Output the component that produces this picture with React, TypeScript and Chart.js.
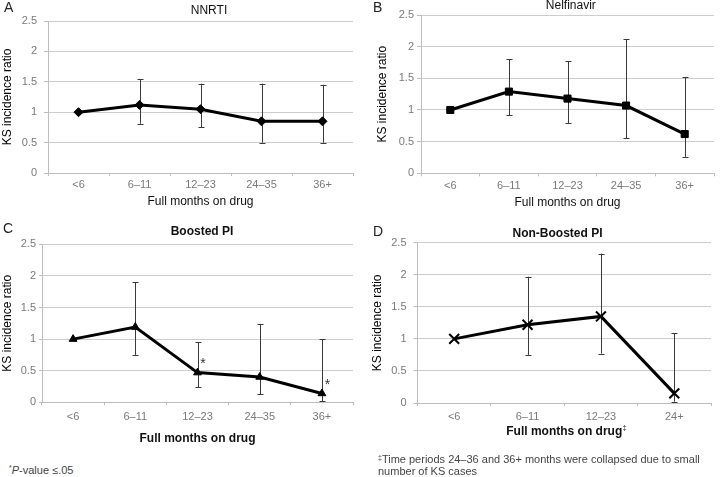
import React, { useEffect, useRef } from 'react';
import { Chart, registerables } from 'chart.js';

Chart.register(...registerables);

// ---------- data ----------
const monthsFive = ['<6', '6–11', '12–23', '24–35', '36+'];
const monthsFour = ['<6', '6–11', '12–23', '24+'];
const yTickValues = [0, 0.5, 1, 1.5, 2, 2.5];

const nnrtiRatio = [1.0, 1.12, 1.05, 0.85, 0.85];
const nnrtiLower = [null, 0.81, 0.75, 0.5, 0.5];
const nnrtiUpper = [null, 1.54, 1.47, 1.47, 1.45];

const nelfinavirRatio = [1.0, 1.29, 1.18, 1.07, 0.62];
const nelfinavirLower = [null, 0.92, 0.79, 0.55, 0.26];
const nelfinavirUpper = [null, 1.8, 1.77, 2.12, 1.52];

const boostedRatio = [1.0, 1.19, 0.47, 0.4, 0.14];
const boostedLower = [null, 0.75, 0.24, 0.13, 0.02];
const boostedUpper = [null, 1.9, 0.95, 1.24, 1.0];
const boostedSignificant = [false, false, true, false, true];

const nonBoostedRatio = [1.0, 1.22, 1.35, 0.15];
const nonBoostedLower = [null, 0.75, 0.77, 0.02];
const nonBoostedUpper = [null, 1.97, 2.33, 1.09];

const FONT = "'Liberation Sans', Arial, Helvetica, sans-serif";
const gridColor = '#cdcdcd';
const axisColor = '#bdbdbd';
const tickColor = '#7a7a7a';

type Panel = {
  letter: string;
  title: string;
  titleBold: boolean;
  titleX: number;
  titleY: number;
  letterX: number;
  letterY: number;
  labels: string[];
  ratio: number[];
  lower: (number | null)[];
  upper: (number | null)[];
  significant?: boolean[];
  pointStyle: string;
  pointRadius: number;
  pointBorderWidth: number;
  left: number;
  top: number;
  w: number;
  h: number;
  area: { l: number; r: number; t: number; b: number };
  yTickLen: number;
  yTickPad: number;
  xTickLen: number;
  xTickPad: number;
  yTitleX: number;
  xTitleY: number;
  axisTitleBold: boolean;
  xTitleSup?: string;
};

const panels: Panel[] = [
  {
    letter: 'A', title: 'NNRTI', titleBold: false, titleX: 209, titleY: 10.7, letterX: 4, letterY: 8.5,
    labels: monthsFive, ratio: nnrtiRatio, lower: nnrtiLower, upper: nnrtiUpper,
    pointStyle: 'rectRot', pointRadius: 4.5, pointBorderWidth: 1,
    left: 0, top: 0, w: 360, h: 212,
    area: { l: 48, r: 353, t: 21, b: 173 },
    yTickLen: 4, yTickPad: 7, xTickLen: 3, xTickPad: 2, yTitleX: 8, xTitleY: 201.7, axisTitleBold: false,
  },
  {
    letter: 'B', title: 'Nelfinavir', titleBold: false, titleX: 210.8, titleY: 5.5, letterX: 13, letterY: 8.5,
    labels: monthsFive, ratio: nelfinavirRatio, lower: nelfinavirLower, upper: nelfinavirUpper,
    pointStyle: 'rect', pointRadius: 5, pointBorderWidth: 1,
    left: 360, top: 0, w: 360, h: 212,
    area: { l: 61, r: 358, t: 15, b: 173.3 },
    yTickLen: 4, yTickPad: 3, xTickLen: 3, xTickPad: 3, yTitleX: 22.7, xTitleY: 202.3, axisTitleBold: false,
  },
  {
    letter: 'C', title: 'Boosted PI', titleBold: true, titleX: 202, titleY: 16.7, letterX: 3, letterY: 14,
    labels: monthsFive, ratio: boostedRatio, lower: boostedLower, upper: boostedUpper,
    significant: boostedSignificant,
    pointStyle: 'triangle', pointRadius: 4.5, pointBorderWidth: 1,
    left: 0, top: 215, w: 360, h: 240,
    area: { l: 42, r: 353, t: 29.3, b: 187.3 },
    yTickLen: 3, yTickPad: 3, xTickLen: 3, xTickPad: 5, yTitleX: 7.3, xTitleY: 224, axisTitleBold: true,
  },
  {
    letter: 'D', title: 'Non-Boosted PI', titleBold: true, titleX: 197.5, titleY: 18.3, letterX: 13, letterY: 17.5,
    labels: monthsFour, ratio: nonBoostedRatio, lower: nonBoostedLower, upper: nonBoostedUpper,
    pointStyle: 'crossRot', pointRadius: 7, pointBorderWidth: 2,
    left: 360, top: 215, w: 360, h: 240,
    area: { l: 57.5, r: 360, t: 27.7, b: 188 },
    yTickLen: 4, yTickPad: 7, xTickLen: 3, xTickPad: 4, yTitleX: 17.3, xTitleY: 216.7, axisTitleBold: true,
    xTitleSup: '‡',
  },
];

function makePanelPlugin(p: Panel) {
  return {
    id: 'panelExtras' + p.letter,
    beforeDatasetsDraw(chart: any) {
      const ctx = chart.ctx;
      const xs = chart.scales.x;
      const ys = chart.scales.y;
      ctx.save();
      ctx.strokeStyle = '#3a3a3a';
      ctx.lineWidth = 1;
      const cap = 3;
      p.lower.forEach((lo, i) => {
        const hi = p.upper[i];
        if (lo == null || hi == null) return;
        const px = Math.round(xs.getPixelForValue(i)) + 0.5;
        const y1 = ys.getPixelForValue(lo);
        const y2 = ys.getPixelForValue(hi);
        ctx.beginPath();
        ctx.moveTo(px, y1);
        ctx.lineTo(px, y2);
        ctx.moveTo(px - cap, Math.round(y1) + 0.5);
        ctx.lineTo(px + cap, Math.round(y1) + 0.5);
        ctx.moveTo(px - cap, Math.round(y2) + 0.5);
        ctx.lineTo(px + cap, Math.round(y2) + 0.5);
        ctx.stroke();
      });
      ctx.restore();
    },
    afterDraw(chart: any) {
      const ctx = chart.ctx;
      ctx.save();
      // panel letter
      ctx.fillStyle = '#222';
      ctx.font = `14px ${FONT}`;
      ctx.textAlign = 'left';
      ctx.textBaseline = 'middle';
      ctx.fillText(p.letter, p.letterX, p.letterY);
      // panel title
      ctx.fillStyle = '#111';
      ctx.font = `${p.titleBold ? 'bold ' : ''}12px ${FONT}`;
      ctx.textAlign = 'center';
      ctx.fillText(p.title, p.titleX, p.titleY);
      // significance markers
      if (p.significant) {
        const xs = chart.scales.x;
        const ys = chart.scales.y;
        ctx.fillStyle = '#333';
        ctx.font = `14px ${FONT}`;
        ctx.textAlign = 'center';
        p.significant.forEach((s, i) => {
          if (!s) return;
          const px = xs.getPixelForValue(i);
          const py = ys.getPixelForValue(p.ratio[i]);
          ctx.fillText('*', px + 5.5, py - 8);
        });
      }
      // superscript on x-axis title
      if (p.xTitleSup) {
        const xs = chart.scales.x;
        ctx.font = `${p.axisTitleBold ? 'bold ' : ''}12px ${FONT}`;
        const wMain = ctx.measureText('Full months on drug').width;
        const cx = (xs.left + xs.right) / 2;
        ctx.fillStyle = '#111';
        ctx.font = `7px ${FONT}`;
        ctx.textAlign = 'left';
        ctx.fillText(p.xTitleSup, cx + wMain / 2 + 0.5, p.xTitleY - 4);
      }
      ctx.restore();
    },
  };
}

function PanelChart({ p }: { p: Panel }) {
  const ref = useRef<HTMLCanvasElement | null>(null);
  useEffect(() => {
    if (!ref.current) return;
    const lh = 12 * 1.2;
    const chart = new Chart(ref.current, {
      type: 'line',
      data: {
        labels: p.labels,
        datasets: [
          {
            data: p.ratio,
            borderColor: '#000',
            borderWidth: 3,
            tension: 0,
            pointStyle: p.pointStyle as any,
            pointRadius: p.pointRadius,
            pointBackgroundColor: '#000',
            pointBorderColor: '#000',
            pointBorderWidth: p.pointBorderWidth,
            clip: false as any,
          },
        ],
      },
      options: {
        animation: false,
        responsive: false,
        maintainAspectRatio: false,
        layout: { padding: { left: 0, top: p.area.t, right: p.w - p.area.r, bottom: 0 } },
        plugins: {
          legend: { display: false },
          tooltip: { enabled: false },
          title: { display: false },
        },
        scales: {
          x: {
            type: 'category',
            offset: true,
            grid: {
              display: true,
              offset: true,
              drawOnChartArea: false,
              drawTicks: true,
              tickLength: p.xTickLen,
              color: axisColor,
              lineWidth: 1,
            },
            border: { display: true, color: axisColor, width: 1 },
            ticks: {
              color: tickColor,
              font: { family: FONT, size: 11 },
              padding: p.xTickPad,
              maxRotation: 0,
              autoSkip: false,
            },
            title: {
              display: true,
              text: 'Full months on drug',
              color: '#111',
              font: { family: FONT, size: 12, weight: p.axisTitleBold ? 'bold' : 'normal' },
              padding: { top: 0, bottom: p.h - p.xTitleY - lh / 2 },
            },
            afterFit: (s: any) => {
              s.height = p.h - p.area.b;
            },
          },
          y: {
            min: 0,
            max: 2.5,
            afterBuildTicks: (s: any) => {
              s.ticks = yTickValues.map((v) => ({ value: v }));
            },
            grid: {
              color: gridColor,
              tickColor: axisColor,
              tickLength: p.yTickLen,
              drawTicks: true,
              lineWidth: 1,
            },
            border: { display: true, color: axisColor, width: 1 },
            ticks: {
              color: tickColor,
              font: { family: FONT, size: 11 },
              padding: p.yTickPad,
              callback: (v: any) => String(v),
            },
            title: {
              display: true,
              text: 'KS incidence ratio',
              color: '#000',
              font: { family: FONT, size: 12, weight: 'normal' },
              padding: { top: p.yTitleX - lh / 2, bottom: 0 },
            },
            afterFit: (s: any) => {
              s.width = p.area.l;
            },
          },
        },
      } as any,
      plugins: [makePanelPlugin(p)],
    });
    return () => chart.destroy();
  }, [p]);
  return (
    <canvas
      ref={ref}
      width={p.w}
      height={p.h}
      style={{ position: 'absolute', left: p.left, top: p.top, width: p.w, height: p.h }}
    />
  );
}

export default function App() {
  return (
    <div
      style={{
        position: 'absolute',
        left: 0,
        top: 0,
        width: 720,
        height: 477,
        background: '#fff',
        overflow: 'hidden',
        fontFamily: FONT,
      }}
    >
      {panels.map((p) => (
        <PanelChart key={p.letter} p={p} />
      ))}
      <div
        style={{
          position: 'absolute',
          left: 9,
          top: 463,
          fontSize: 11,
          lineHeight: '14px',
          color: '#444',
          whiteSpace: 'nowrap',
        }}
      >
        <span style={{ fontSize: 7, position: 'relative', top: -4 }}>*</span>
        <i>P</i>-value ≤.05
      </div>
      <div
        style={{
          position: 'absolute',
          left: 378,
          top: 454,
          fontSize: 11,
          lineHeight: '11px',
          color: '#444',
          whiteSpace: 'nowrap',
        }}
      >
        <span style={{ fontSize: 7, position: 'relative', top: -3 }}>‡</span>
        Time periods 24–36 and 36+ months were collapsed due to small
        <br />
        number of KS cases
      </div>
    </div>
  );
}
